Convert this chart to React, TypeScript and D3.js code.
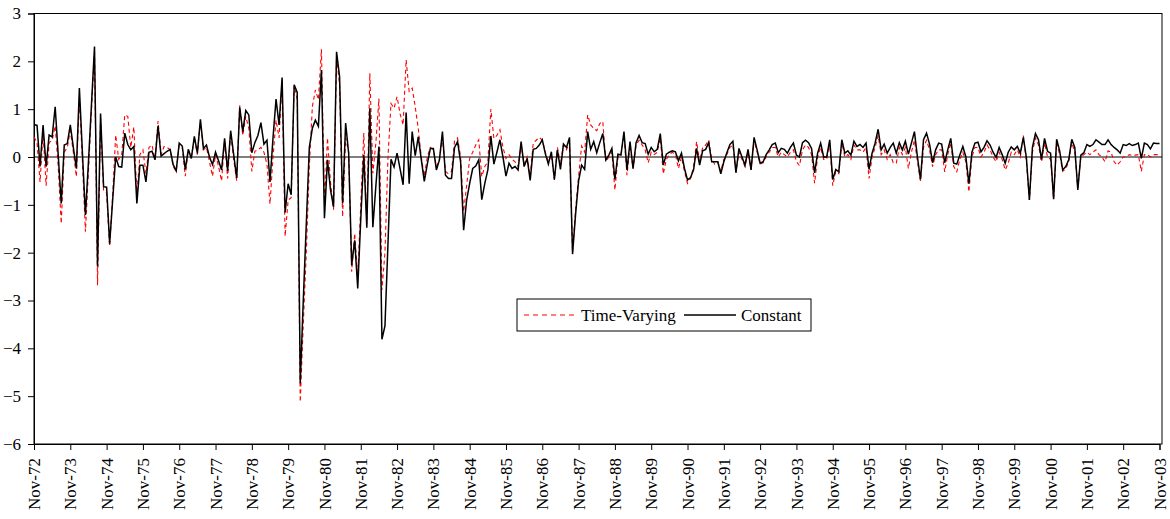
import React, { useEffect, useRef } from 'react'
import * as d3 from 'd3'

// monthly values, Nov-72 .. Nov-03 (one row per year, Nov..Oct)
const constant = [
  0.68, 0.66, -0.20, 0.67, -0.20, 0.46, 0.42, 1.05, 0.05, -0.97, 0.25, 0.28,
  0.67, 0.20, -0.24, 1.44, 0.10, -1.21, -0.10, 1.10, 2.31, -2.29, 0.91, -0.62,
  -0.63, -1.81, -0.90, 0.00, -0.20, -0.21, 0.50, 0.26, 0.15, 0.22, -0.97, -0.17,
  -0.17, -0.52, 0.10, 0.12, -0.06, 0.65, 0.02, 0.07, 0.12, 0.16, -0.16, -0.29,
  0.29, 0.23, -0.26, 0.16, -0.03, 0.43, 0.08, 0.79, 0.18, 0.25, 0.00, -0.16,
  0.10, -0.08, -0.27, 0.39, -0.29, 0.55, 0.05, -0.44, 1.04, 0.53, 0.97, 0.88,
  0.09, 0.30, 0.45, 0.72, 0.27, 0.35, -0.52, 0.40, 1.21, 0.67, 1.66, -1.16,
  -0.56, -0.79, 1.51, 1.35, -4.73, -3.00, -1.40, 0.20, 0.60, 0.77, 0.64, 1.82,
  -1.28, -0.06, -0.69, -1.04, 2.20, 1.68, -0.97, 0.71, 0.08, -2.26, -1.74, -2.75,
  -1.30, 0.04, -1.48, 1.02, -1.47, -0.60, 0.22, -3.81, -3.53, -1.80, -0.05, -0.21,
  0.08, -0.25, -0.58, 0.93, -0.56, 0.53, 0.03, 0.42, -0.05, -0.51, -0.15, 0.18,
  0.18, -0.27, -0.06, 0.53, -0.38, -0.45, -0.45, 0.20, 0.32, -0.10, -1.53, -0.90,
  -0.55, -0.24, -0.19, -0.06, -0.89, -0.55, -0.27, 0.44, -0.15, 0.10, 0.36, 0.00,
  -0.40, -0.13, -0.24, -0.20, -0.27, 0.32, -0.20, -0.03, -0.49, 0.16, 0.18, 0.25,
  0.36, 0.07, -0.15, 0.11, -0.47, 0.15, -0.26, 0.27, 0.20, 0.41, -2.03, -1.20,
  -0.50, -0.17, -0.26, 0.53, 0.16, 0.32, 0.09, 0.30, 0.49, -0.06, 0.04, 0.18,
  -0.47, 0.06, 0.04, 0.53, -0.27, 0.32, -0.24, 0.30, 0.45, 0.30, 0.28, 0.06,
  0.20, 0.11, 0.16, 0.49, -0.17, 0.06, 0.10, 0.13, 0.11, -0.08, 0.08, -0.24,
  -0.48, -0.43, -0.27, 0.18, -0.17, 0.13, 0.16, 0.30, -0.10, -0.10, -0.10, -0.35,
  -0.10, 0.09, 0.26, 0.33, -0.33, 0.18, 0.00, -0.17, 0.16, -0.27, 0.41, 0.15,
  -0.13, -0.10, 0.05, 0.15, 0.26, 0.29, 0.09, 0.18, 0.16, 0.08, 0.20, 0.29,
  0.04, 0.00, 0.30, 0.35, 0.30, 0.18, -0.33, 0.08, 0.29, 0.00, 0.00, 0.36,
  -0.47, -0.26, -0.31, 0.36, 0.08, 0.13, 0.04, 0.33, 0.22, 0.26, 0.20, 0.29,
  -0.26, 0.08, 0.29, 0.58, 0.15, 0.27, 0.08, 0.20, 0.29, 0.08, 0.30, 0.15,
  0.33, 0.06, 0.29, 0.53, 0.00, -0.47, 0.36, 0.50, 0.27, -0.12, 0.15, 0.29,
  0.27, -0.12, 0.15, 0.39, -0.13, -0.15, 0.04, 0.22, 0.00, -0.56, 0.10, 0.29,
  0.31, 0.11, 0.20, 0.34, 0.25, 0.10, -0.01, 0.20, 0.05, -0.13, 0.10, 0.21,
  0.15, 0.22, 0.08, 0.41, -0.01, -0.90, 0.20, 0.49, 0.36, -0.05, 0.39, 0.12,
  0.08, -0.88, 0.37, 0.13, -0.27, -0.20, -0.06, 0.37, 0.20, -0.69, 0.04, 0.09,
  0.26, 0.22, 0.26, 0.36, 0.31, 0.26, 0.26, 0.36, 0.26, 0.20, 0.15, 0.08,
  0.26, 0.24, 0.28, 0.24, 0.26, 0.29, -0.03, 0.29, 0.26, 0.17, 0.29, 0.28,
  0.28
]

const timeVarying = [
  0.42, 0.30, -0.52, 0.50, -0.60, 0.30, 0.35, 0.65, -0.20, -1.39, 0.10, 0.20,
  0.55, 0.10, -0.41, 1.25, -0.10, -1.56, -0.30, 1.00, 2.20, -2.68, 0.80, -0.70,
  -0.75, -1.87, -0.80, 0.46, -0.05, 0.05, 0.88, 0.85, 0.20, 0.63, -0.80, 0.05,
  0.15, -0.35, 0.20, 0.25, -0.05, 0.75, 0.05, 0.22, 0.20, 0.15, -0.20, -0.30,
  0.25, 0.20, -0.40, 0.15, 0.00, 0.40, 0.05, 0.75, 0.15, 0.20, -0.10, -0.40,
  0.05, -0.20, -0.50, 0.35, -0.45, 0.50, -0.05, -0.50, 1.08, 0.45, 0.85, 0.60,
  -0.30, 0.12, 0.15, 0.20, 0.10, -0.15, -0.98, 0.00, 0.77, 0.40, 1.60, -1.66,
  -0.90, -0.85, 1.50, 1.20, -5.12, -3.50, -2.00, -0.20, 1.05, 1.40, 1.20, 2.25,
  -1.00, 0.40, -0.53, -1.10, 2.10, 1.50, -1.25, 0.40, 0.10, -2.40, -1.60, -2.50,
  -1.00, 0.50, -1.40, 1.75, -0.34, 0.30, 1.22, -2.78, -2.00, 0.00, 1.12, 1.02,
  1.26, 0.90, 0.67, 2.03, 1.37, 1.44, 1.05, 0.60, 0.00, -0.40, 0.00, 0.20,
  0.15, -0.20, -0.05, 0.40, -0.30, -0.35, -0.30, 0.34, 0.40, 0.00, -1.14, -0.60,
  -0.03, 0.10, 0.25, 0.36, -0.41, -0.20, -0.10, 1.00, 0.39, 0.45, 0.57, 0.20,
  -0.03, 0.05, -0.05, -0.10, -0.20, 0.25, -0.15, 0.00, -0.40, 0.29, 0.35, 0.41,
  0.35, 0.10, -0.10, 0.05, -0.48, 0.20, -0.15, 0.25, 0.15, 0.30, -2.00, -1.10,
  -0.40, 0.23, 0.10, 0.88, 0.67, 0.60, 0.55, 0.70, 0.74, -0.10, 0.00, 0.10,
  -0.69, 0.00, 0.05, 0.45, -0.38, 0.25, -0.25, 0.25, 0.35, 0.25, 0.15, -0.12,
  0.10, 0.05, 0.10, 0.40, -0.35, -0.05, 0.05, 0.10, 0.05, -0.24, 0.00, -0.30,
  -0.55, -0.45, -0.20, 0.32, -0.10, 0.20, 0.25, 0.35, -0.05, -0.15, -0.10, -0.30,
  -0.05, 0.05, 0.20, 0.25, -0.30, 0.10, -0.05, -0.20, 0.10, -0.27, 0.35, 0.10,
  -0.15, -0.12, 0.00, 0.10, 0.20, 0.20, 0.00, 0.10, 0.05, 0.00, 0.10, 0.15,
  -0.10, -0.18, 0.15, 0.25, 0.20, 0.05, -0.55, 0.00, 0.20, -0.05, -0.05, 0.30,
  -0.60, -0.30, -0.35, 0.30, 0.00, 0.05, -0.05, 0.25, 0.15, 0.15, 0.10, 0.20,
  -0.45, 0.00, 0.20, 0.45, 0.05, 0.15, -0.05, 0.05, -0.12, -0.13, 0.20, 0.05,
  0.20, -0.24, 0.10, 0.35, -0.10, -0.50, 0.20, 0.35, 0.15, -0.20, 0.05, 0.15,
  0.15, -0.31, 0.05, 0.30, -0.20, -0.31, -0.05, 0.10, -0.10, -0.73, 0.00, 0.20,
  0.20, 0.00, 0.10, 0.25, 0.15, 0.00, -0.10, 0.10, -0.05, -0.27, -0.13, 0.10,
  0.05, 0.15, 0.00, 0.45, -0.10, -0.90, 0.10, 0.40, 0.25, -0.10, 0.30, 0.00,
  -0.05, -0.88, 0.30, 0.05, -0.30, -0.25, -0.10, 0.30, 0.10, -0.65, 0.00, 0.05,
  0.10, 0.05, 0.10, 0.15, 0.05, 0.00, -0.10, 0.13, 0.10, -0.10, -0.17, -0.10,
  0.00, 0.00, 0.05, 0.03, 0.04, 0.05, -0.30, 0.05, 0.05, 0.00, 0.05, 0.05,
  0.05
]

const tickLabels = [
  'Nov-72', 'Nov-73', 'Nov-74', 'Nov-75', 'Nov-76', 'Nov-77', 'Nov-78', 'Nov-79',
  'Nov-80', 'Nov-81', 'Nov-82', 'Nov-83', 'Nov-84', 'Nov-85', 'Nov-86', 'Nov-87',
  'Nov-88', 'Nov-89', 'Nov-90', 'Nov-91', 'Nov-92', 'Nov-93', 'Nov-94', 'Nov-95',
  'Nov-96', 'Nov-97', 'Nov-98', 'Nov-99', 'Nov-00', 'Nov-01', 'Nov-02', 'Nov-03'
]

const yTicks = [3, 2, 1, 0, -1, -2, -3, -4, -5, -6]

// svg / plot area
const width = 1170
const height = 519
const left = 34
const right = 1162
const top = 13.5
const bottom = 444
const font = "'Liberation Serif', 'Times New Roman', serif"

export default function App() {
  const ref = useRef<SVGSVGElement>(null)

  useEffect(() => {
    const svg = d3.select(ref.current)
    svg.selectAll('*').remove()

    const x = d3.scaleLinear()
      .domain([0, constant.length - 1])
      .range([left, 1159.5])

    const y = d3.scaleLinear()
      .domain([-6, 3])
      .range([bottom, top])

    // plot area border
    svg.append('rect')
      .attr('x', left)
      .attr('y', top)
      .attr('width', right - left)
      .attr('height', bottom - top)
      .attr('fill', '#fff')
      .attr('stroke', '#000')
      .attr('stroke-width', 1)

    // y axis
    const yAxis = svg.append('g')
      .attr('transform', `translate(${left},0)`)
      .call(d3.axisLeft(y).tickValues(yTicks).tickSize(6).tickPadding(7).tickFormat(d3.format('d')))
    yAxis.selectAll('text')
      .style('font-family', font)
      .style('font-size', '17px')
      .attr('fill', '#000')
    yAxis.selectAll('line, path').attr('stroke', '#000')

    // x axis, one tick per November
    const xAxis = svg.append('g')
      .attr('transform', `translate(0,${bottom})`)
      .call(d3.axisBottom(x)
        .tickValues(tickLabels.map((d, i) => i * 12))
        .tickSize(6)
        .tickFormat((d, i) => tickLabels[i]))
    xAxis.selectAll('line, path').attr('stroke', '#000')
    xAxis.selectAll('text')
      .attr('transform', 'translate(0,14) rotate(-90)')
      .attr('x', 0)
      .attr('y', 0)
      .attr('dy', '0.33em')
      .attr('text-anchor', 'end')
      .style('font-family', font)
      .style('font-size', '17px')
      .attr('fill', '#000')

    // zero line
    svg.append('line')
      .attr('x1', left)
      .attr('x2', right)
      .attr('y1', y(0))
      .attr('y2', y(0))
      .attr('stroke', '#000')
      .attr('stroke-width', 1.2)

    const line = d3.line<number>()
      .x((d, i) => x(i))
      .y(d => y(d))

    svg.append('path')
      .datum(timeVarying)
      .attr('d', line)
      .attr('fill', 'none')
      .attr('stroke', '#ff0000')
      .attr('stroke-width', 1.1)
      .attr('stroke-dasharray', '4,3')

    svg.append('path')
      .datum(constant)
      .attr('d', line)
      .attr('fill', 'none')
      .attr('stroke', '#000')
      .attr('stroke-width', 1.5)

    // legend
    const legend = svg.append('g')
    legend.append('rect')
      .attr('x', 517)
      .attr('y', 299)
      .attr('width', 294)
      .attr('height', 32)
      .attr('fill', '#fff')
      .attr('stroke', '#000')
      .attr('stroke-width', 1)
    legend.append('line')
      .attr('x1', 524).attr('x2', 574)
      .attr('y1', 315).attr('y2', 315)
      .attr('stroke', '#ff0000')
      .attr('stroke-width', 1.1)
      .attr('stroke-dasharray', '5,4')
    legend.append('text')
      .attr('x', 581).attr('y', 321)
      .style('font-family', font)
      .style('font-size', '17px')
      .text('Time-Varying')
    legend.append('line')
      .attr('x1', 684).attr('x2', 736)
      .attr('y1', 315).attr('y2', 315)
      .attr('stroke', '#000')
      .attr('stroke-width', 1.5)
    legend.append('text')
      .attr('x', 741).attr('y', 321)
      .style('font-family', font)
      .style('font-size', '17px')
      .text('Constant')
  }, [])

  return (
    <svg
      ref={ref}
      width={width}
      height={height}
      style={{ position: 'absolute', left: 0, top: 0, background: '#fff' }}
    />
  )
}
